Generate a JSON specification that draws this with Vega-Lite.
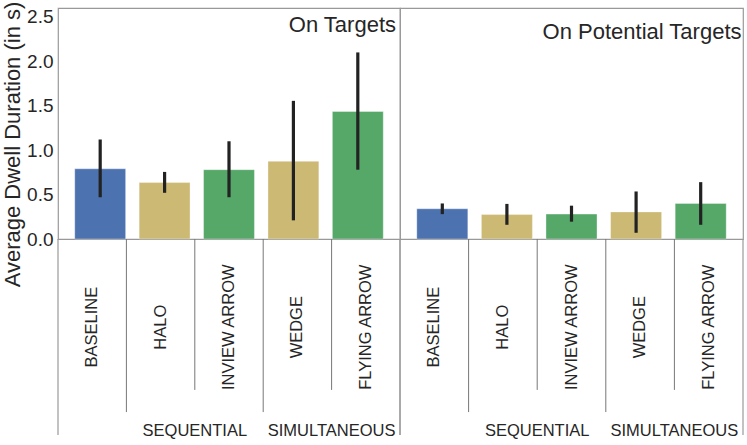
{
  "$schema": "https://vega.github.io/schema/vega-lite/v6.json",
  "padding": {"left": 0, "top": 0, "right": 3, "bottom": 0},
  "spacing": 0,
  "bounds": "flush",
  "columns": 2,
  "datasets": {
    "cues": [
      {"panel": "On Targets", "condition": "BASELINE", "group": "BASELINE", "cue": "baseline", "divider": "panel", "mean": 0.79, "lo": 0.47, "hi": 1.12},
      {"panel": "On Targets", "condition": "HALO", "group": "SEQUENTIAL", "cue": "outline", "divider": "group", "mean": 0.635, "lo": 0.52, "hi": 0.755},
      {"panel": "On Targets", "condition": "INVIEW ARROW", "group": "SEQUENTIAL", "cue": "arrow", "divider": "item", "mean": 0.78, "lo": 0.47, "hi": 1.1},
      {"panel": "On Targets", "condition": "WEDGE", "group": "SIMULTANEOUS", "cue": "outline", "divider": "group", "mean": 0.875, "lo": 0.21, "hi": 1.555},
      {"panel": "On Targets", "condition": "FLYING ARROW", "group": "SIMULTANEOUS", "cue": "arrow", "divider": "item", "mean": 1.435, "lo": 0.78, "hi": 2.1},
      {"panel": "On Potential Targets", "condition": "BASELINE", "group": "BASELINE", "cue": "baseline", "divider": "panel", "mean": 0.34, "lo": 0.28, "hi": 0.4},
      {"panel": "On Potential Targets", "condition": "HALO", "group": "SEQUENTIAL", "cue": "outline", "divider": "group", "mean": 0.275, "lo": 0.16, "hi": 0.395},
      {"panel": "On Potential Targets", "condition": "INVIEW ARROW", "group": "SEQUENTIAL", "cue": "arrow", "divider": "item", "mean": 0.28, "lo": 0.195, "hi": 0.375},
      {"panel": "On Potential Targets", "condition": "WEDGE", "group": "SIMULTANEOUS", "cue": "outline", "divider": "group", "mean": 0.305, "lo": 0.07, "hi": 0.535},
      {"panel": "On Potential Targets", "condition": "FLYING ARROW", "group": "SIMULTANEOUS", "cue": "arrow", "divider": "item", "mean": 0.4, "lo": 0.16, "hi": 0.64}
    ]
  },
  "concat": [
    {
      "data": {"name": "cues"},
      "transform": [{"filter": "datum.panel == 'On Targets'"}],
      "title": {"text": "On Targets", "anchor": "end", "offset": -36, "dx": -4},
      "width": 342,
      "height": 231,
      "encoding": {
        "x": {"field": "condition", "type": "nominal", "sort": null,
              "scale": {"domain": ["BASELINE", "HALO", "INVIEW ARROW", "WEDGE", "FLYING ARROW"], "paddingInner": 0.21, "paddingOuter": 0.26},
              "axis": null}
      },
      "layer": [
        {
          "mark": {"type": "bar", "stroke": "#ffffff", "strokeOpacity": 0.35, "strokeWidth": 1},
          "encoding": {
            "y": {"field": "mean", "type": "quantitative", "scale": {"domain": [0, 2.5]},
                  "axis": {"title": "Average Dwell Duration (in s)", "values": [0, 0.5, 1, 1.5, 2, 2.5], "format": ".1f",
                           "titleY": 136}},
            "color": {"field": "cue", "type": "nominal",
                      "scale": {"domain": ["baseline", "outline", "arrow"], "range": ["#4C72B0", "#CCB974", "#55A868"]},
                      "legend": null}
          }
        },
        {
          "mark": {"type": "rule", "color": "#222222", "strokeWidth": 3.2},
          "encoding": {"y": {"field": "lo", "type": "quantitative"}, "y2": {"field": "hi"}}
        }
      ]
    },
    {
      "data": {"name": "cues"},
      "transform": [{"filter": "datum.panel == 'On Potential Targets'"}],
      "title": {"text": "On Potential Targets", "anchor": "end", "offset": -36, "dx": -1.5},
      "width": 343,
      "height": 231,
      "encoding": {
        "x": {"field": "condition", "type": "nominal", "sort": null,
              "scale": {"domain": ["BASELINE", "HALO", "INVIEW ARROW", "WEDGE", "FLYING ARROW"], "paddingInner": 0.21, "paddingOuter": 0.26},
              "axis": null}
      },
      "layer": [
        {
          "mark": {"type": "bar", "stroke": "#ffffff", "strokeOpacity": 0.35, "strokeWidth": 1},
          "encoding": {
            "y": {"field": "mean", "type": "quantitative", "scale": {"domain": [0, 2.5]}, "axis": null},
            "color": {"field": "cue", "type": "nominal",
                      "scale": {"domain": ["baseline", "outline", "arrow"], "range": ["#4C72B0", "#CCB974", "#55A868"]},
                      "legend": null}
          }
        },
        {
          "mark": {"type": "rule", "color": "#222222", "strokeWidth": 3.2},
          "encoding": {"y": {"field": "lo", "type": "quantitative"}, "y2": {"field": "hi"}}
        }
      ]
    },
    {
      "data": {"name": "cues"},
      "transform": [{"filter": "datum.panel == 'On Targets'"}],
      "width": 342,
      "height": 196,
      "view": {"stroke": null},
      "layer": [
        {
          "transform": [{"filter": "datum.divider == 'item'"}],
          "mark": {"type": "rule", "color": "#777777"},
          "encoding": {
            "x": {"field": "condition", "type": "nominal", "bandPosition": 0,
                  "scale": {"domain": ["BASELINE", "HALO", "INVIEW ARROW", "WEDGE", "FLYING ARROW"], "paddingInner": 0, "paddingOuter": 0},
                  "axis": null},
            "y": {"datum": 0, "type": "quantitative", "scale": {"domain": [0, 1], "reverse": true}, "axis": null},
            "y2": {"datum": 0.77}
          }
        },
        {
          "transform": [{"filter": "datum.divider == 'group'"}],
          "mark": {"type": "rule", "color": "#777777"},
          "encoding": {
            "x": {"field": "condition", "type": "nominal", "bandPosition": 0},
            "y": {"datum": 0, "type": "quantitative"},
            "y2": {"datum": 0.883}
          }
        },
        {
          "transform": [{"filter": "datum.divider == 'panel'"}],
          "mark": {"type": "rule", "color": "#999999", "strokeWidth": 1.2},
          "encoding": {
            "x": {"field": "condition", "type": "nominal", "bandPosition": 0},
            "y": {"datum": 0, "type": "quantitative"},
            "y2": {"datum": 1}
          }
        },
        {
          "transform": [{"filter": "datum.condition == 'FLYING ARROW'"}],
          "mark": {"type": "rule", "color": "#999999", "strokeWidth": 1.2},
          "encoding": {
            "x": {"field": "condition", "type": "nominal", "bandPosition": 1},
            "y": {"datum": 0, "type": "quantitative"},
            "y2": {"datum": 1}
          }
        },
        {
          "mark": {"type": "text", "angle": 270, "align": "center", "baseline": "middle", "fontSize": 16.5},
          "encoding": {
            "x": {"field": "condition", "type": "nominal"},
            "y": {"datum": 0.45, "type": "quantitative"},
            "text": {"field": "condition"}
          }
        },
        {
          "transform": [{"filter": "datum.divider == 'item'"}],
          "mark": {"type": "text", "align": "center", "baseline": "middle", "fontSize": 16.5},
          "encoding": {
            "x": {"field": "condition", "type": "nominal", "bandPosition": 0},
            "y": {"datum": 0.978, "type": "quantitative"},
            "text": {"field": "group"}
          }
        }
      ]
    },
    {
      "data": {"name": "cues"},
      "transform": [{"filter": "datum.panel == 'On Potential Targets'"}],
      "width": 343,
      "height": 196,
      "view": {"stroke": null},
      "layer": [
        {
          "transform": [{"filter": "datum.divider == 'item'"}],
          "mark": {"type": "rule", "color": "#777777"},
          "encoding": {
            "x": {"field": "condition", "type": "nominal", "bandPosition": 0,
                  "scale": {"domain": ["BASELINE", "HALO", "INVIEW ARROW", "WEDGE", "FLYING ARROW"], "paddingInner": 0, "paddingOuter": 0},
                  "axis": null},
            "y": {"datum": 0, "type": "quantitative", "scale": {"domain": [0, 1], "reverse": true}, "axis": null},
            "y2": {"datum": 0.77}
          }
        },
        {
          "transform": [{"filter": "datum.divider == 'group'"}],
          "mark": {"type": "rule", "color": "#777777"},
          "encoding": {
            "x": {"field": "condition", "type": "nominal", "bandPosition": 0},
            "y": {"datum": 0, "type": "quantitative"},
            "y2": {"datum": 0.883}
          }
        },
        {
          "transform": [{"filter": "datum.divider == 'panel'"}],
          "mark": {"type": "rule", "color": "#999999", "strokeWidth": 1.2},
          "encoding": {
            "x": {"field": "condition", "type": "nominal", "bandPosition": 0},
            "y": {"datum": 0, "type": "quantitative"},
            "y2": {"datum": 1}
          }
        },
        {
          "transform": [{"filter": "datum.condition == 'FLYING ARROW'"}],
          "mark": {"type": "rule", "color": "#999999", "strokeWidth": 1.2},
          "encoding": {
            "x": {"field": "condition", "type": "nominal", "bandPosition": 1},
            "y": {"datum": 0, "type": "quantitative"},
            "y2": {"datum": 1}
          }
        },
        {
          "mark": {"type": "text", "angle": 270, "align": "center", "baseline": "middle", "fontSize": 16.5},
          "encoding": {
            "x": {"field": "condition", "type": "nominal"},
            "y": {"datum": 0.45, "type": "quantitative"},
            "text": {"field": "condition"}
          }
        },
        {
          "transform": [{"filter": "datum.divider == 'item'"}],
          "mark": {"type": "text", "align": "center", "baseline": "middle", "fontSize": 16.5},
          "encoding": {
            "x": {"field": "condition", "type": "nominal", "bandPosition": 0},
            "y": {"datum": 0.978, "type": "quantitative"},
            "text": {"field": "group"}
          }
        }
      ]
    }
  ],
  "config": {
    "font": "Liberation Sans",
    "view": {"stroke": "#999999", "strokeWidth": 1.2},
    "text": {"color": "#262626"},
    "title": {"fontSize": 22, "fontWeight": "normal", "color": "#262626", "baseline": "bottom"},
    "axis": {
      "domain": false,
      "grid": false,
      "ticks": false,
      "tickSize": 0,
      "labelFlush": false,
      "labelFontSize": 19,
      "labelColor": "#262626",
      "labelPadding": 5,
      "titleFontSize": 22,
      "titleFontWeight": "normal",
      "titleColor": "#262626",
      "titlePadding": 2
    }
  }
}
